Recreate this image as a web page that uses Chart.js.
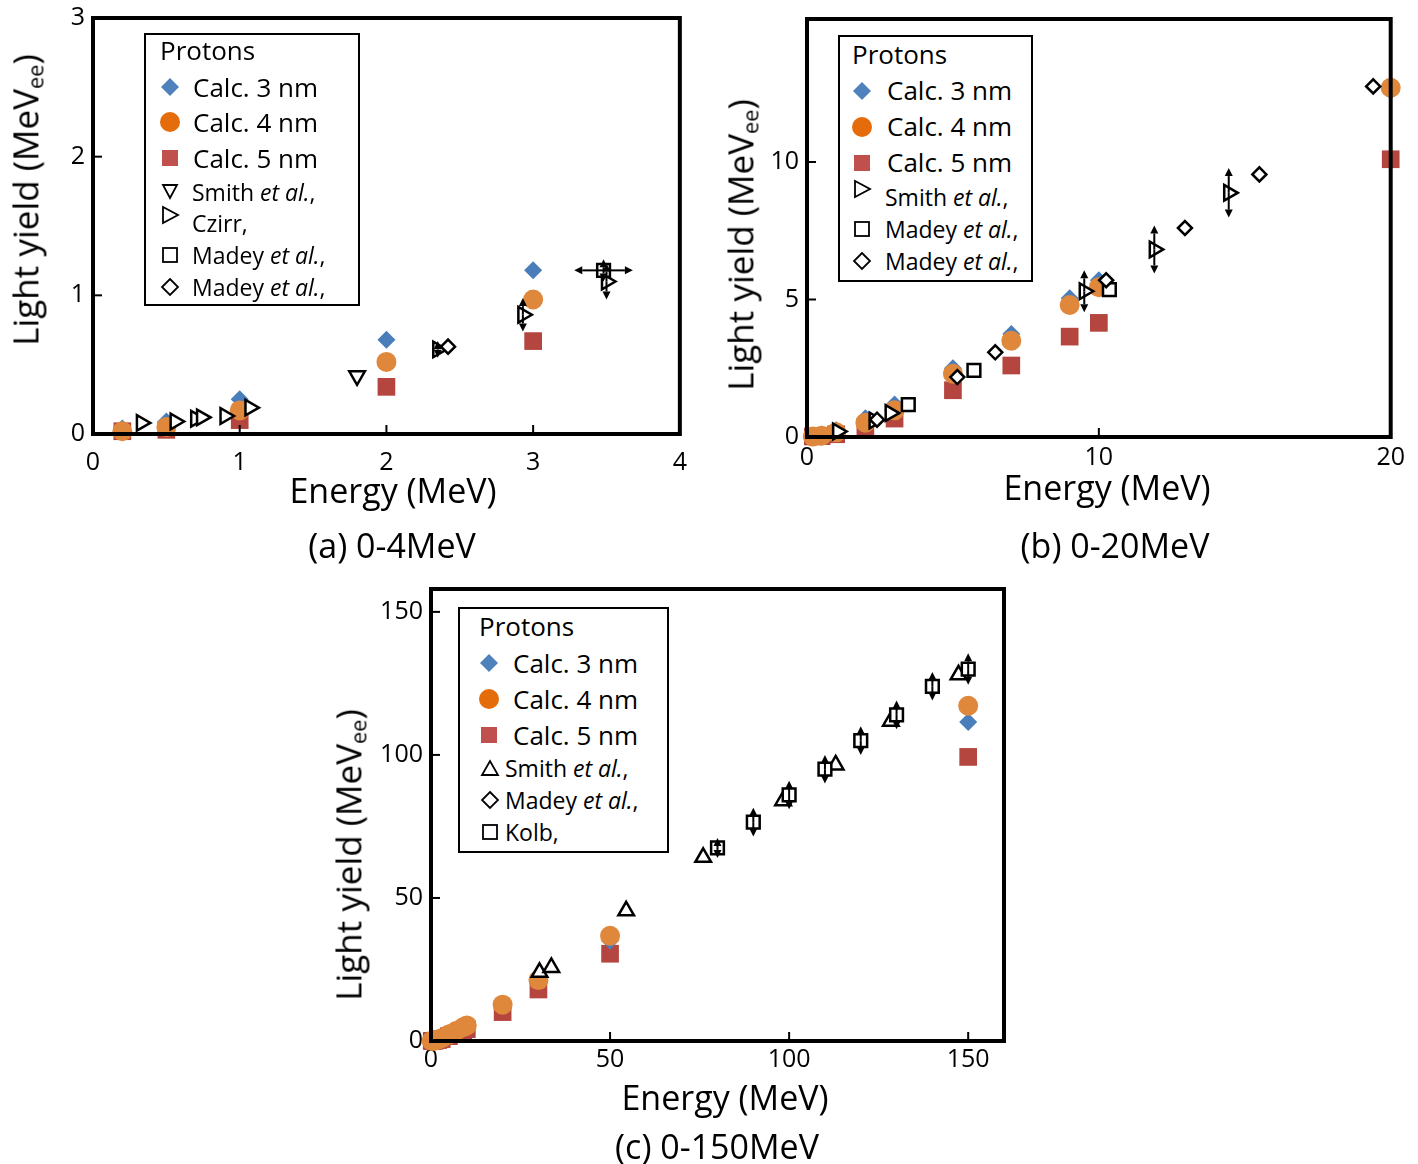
<!DOCTYPE html>
<html>
<head>
<meta charset="utf-8">
<script src="https://cdn.jsdelivr.net/npm/chart.js@4"></script>
<style>
  body { margin:0; width:1418px; height:1164px; background:#fff; position:relative; overflow:hidden;
         font-family:"Open Sans", sans-serif; color:#000; }
  .panel { position:absolute; }
  .txt { position:absolute; white-space:nowrap; transform:translate(-50%,-50%); line-height:1; }
  .ytitle { transform:translate(-50%,-50%) rotate(-90deg); }
  .ytitle sub { font-size:0.62em; vertical-align:-0.25em; }
  .legend { position:absolute; border:2px solid #000; background:#fff; box-sizing:border-box; }
  .ltxt { position:absolute; white-space:nowrap; transform:translateY(-50%); line-height:1; }
  .mk { position:absolute; }
</style>
</head>
<body>
<div class="panel" id="pa"><canvas id="ca"></canvas></div>
<div class="panel" id="pb"><canvas id="cb"></canvas></div>
<div class="panel" id="pc"><canvas id="cc"></canvas></div>

<script>
// ---- data ----
const calcEnergy = [0.2, 0.5, 1, 2, 3, 5, 7, 9, 10, 20, 30, 50, 150];
const calc3nm    = [0.04, 0.09, 0.25, 0.68, 1.18, 2.5, 3.75, 5.05, 5.7, 12.6, 21, 35, 111.5];
const calc4nm    = [0.02, 0.05, 0.17, 0.52, 0.97, 2.3, 3.5, 4.8, 5.45, 12.7, 21.3, 36.8, 117.2];
const calc5nm    = [0.02, 0.03, 0.10, 0.34, 0.67, 1.7, 2.6, 3.65, 4.15, 10.1, 18, 30.5, 99.3];

// panel (a)
const smithA_E = [1.8];
const smithA_LY = [0.42];
const czirrA_E = [0.33, 0.56, 0.7, 0.74, 0.9, 1.07, 2.35, 2.93, 3.5];
const czirrA_LY = [0.08, 0.09, 0.11, 0.12, 0.13, 0.19, 0.61, 0.86, 1.1];
const czirrA_err = [0, 0, 0, 0, 0, 0, 0.06, 0.12, 0.13];
const madeySqA_E = [3.48];
const madeySqA_LY = [1.18];
const madeySqA_yErr = [0.08];
const madeySqA_xErr = [0.2];
const madeyDiaA_E = [2.42];
const madeyDiaA_LY = [0.63];

// panel (b)
const smithB_E = [1.05, 2.3, 2.85, 9.5, 11.9, 14.45];
const smithB_LY = [0.2, 0.6, 0.87, 5.3, 6.82, 8.88];
const smithB_err = [0, 0, 0, 0.76, 0.87, 0.9];
const madeySqB_E = [3.47, 5.72, 10.36];
const madeySqB_LY = [1.18, 2.42, 5.36];
const madeyDiaB_E = [2.4, 5.15, 6.45, 10.25, 12.95, 15.5, 19.4];
const madeyDiaB_LY = [0.63, 2.18, 3.08, 5.7, 7.6, 9.55, 12.75];

// panel (c)
const smithC_E = [30.3, 33.6, 54.5, 76, 98.3, 113, 128.4, 147.3];
const smithC_LY = [24, 25.7, 45.5, 64.2, 84, 96.5, 111.8, 128];
const kolbC_E = [80, 90, 100, 110, 120, 130, 140, 150];
const kolbC_LY = [67.5, 76.5, 86, 95, 105, 114, 124, 130];
const kolbC_err = [3.5, 5, 5, 5, 5, 5, 5, 5.5];
const madeyC_E = [];
const madeyC_LY = [];

// ticks
const xTicksA = [0, 1, 2, 3, 4];
const yTicksA = [0, 1, 2, 3];
const xTicksB = [0, 10, 20];
const yTicksB = [0, 5, 10];
const xTicksC = [0, 50, 100, 150];
const yTicksC = [0, 50, 100, 150];

const BLUE = '#4A7EBB', ORANGE = '#DF883C', RED = '#B4463F';
const FONT = '"Open Sans", sans-serif';

function pts(E, LY, yErr, xErr, xmax) {
  const out = [];
  E.forEach((e, i) => {
    if (e <= xmax) out.push({ x: e, y: LY[i], yErr: yErr ? yErr[i] : 0, xErr: xErr ? xErr[i] : 0 });
  });
  return out;
}

function calcSets(xmax) {
  return [
    { label: 'Calc. 4 nm', data: pts(calcEnergy, calc4nm, null, null, xmax), pointStyle: 'circle', pointRadius: 10, backgroundColor: ORANGE, borderWidth: 0 },
    { label: 'Calc. 3 nm', data: pts(calcEnergy, calc3nm, null, null, xmax), pointStyle: 'rectRot', pointRadius: 9, backgroundColor: BLUE, borderWidth: 0 },
    { label: 'Calc. 5 nm', data: pts(calcEnergy, calc5nm, null, null, xmax), pointStyle: 'rect', pointRadius: 12.5, backgroundColor: RED, borderWidth: 0 }
  ];
}

function openSet(label, data, style, r, rot) {
  return { label: label, data: data, pointStyle: style, pointRadius: r, rotation: rot || 0,
           backgroundColor: '#fff', borderColor: '#000', borderWidth: 2.5 };
}

function arrow(ctx, x0, y0, x1, y1) {
  const a = Math.atan2(y1 - y0, x1 - x0), h = 8, w = 4;
  const bx = x1 - Math.cos(a) * h, by = y1 - Math.sin(a) * h;
  ctx.beginPath(); ctx.moveTo(x0, y0); ctx.lineTo(bx, by); ctx.stroke();
  ctx.beginPath();
  ctx.moveTo(x1, y1);
  ctx.lineTo(bx - Math.sin(a) * w, by + Math.cos(a) * w);
  ctx.lineTo(bx + Math.sin(a) * w, by - Math.cos(a) * w);
  ctx.closePath(); ctx.fill();
}

const frameAndBars = {
  id: 'frameAndBars',
  afterDatasetsDraw(chart) {
    const { ctx, chartArea: ca, scales } = chart;
    const x = scales.x, y = scales.y;
    ctx.save();
    ctx.strokeStyle = '#000'; ctx.fillStyle = '#000'; ctx.lineWidth = 2;
    chart.data.datasets.forEach(ds => {
      ds.data.forEach(p => {
        const px = x.getPixelForValue(p.x), py = y.getPixelForValue(p.y);
        if (p.yErr) {
          arrow(ctx, px, py, px, y.getPixelForValue(p.y + p.yErr));
          arrow(ctx, px, py, px, y.getPixelForValue(p.y - p.yErr));
        }
        if (p.xErr) {
          arrow(ctx, px, py, x.getPixelForValue(p.x + p.xErr), py);
          arrow(ctx, px, py, x.getPixelForValue(p.x - p.xErr), py);
        }
      });
    });
    // inward ticks
    ctx.lineWidth = 2;
    x.ticks.forEach(t => {
      if (t.value <= x.min || t.value >= x.max) return;
      const px = x.getPixelForValue(t.value);
      ctx.beginPath(); ctx.moveTo(px, ca.bottom); ctx.lineTo(px, ca.bottom - 9); ctx.stroke();
    });
    y.ticks.forEach(t => {
      if (t.value <= y.min || t.value >= y.max) return;
      const py = y.getPixelForValue(t.value);
      ctx.beginPath(); ctx.moveTo(ca.left, py); ctx.lineTo(ca.left + 9, py); ctx.stroke();
    });
    // frame
    ctx.lineWidth = 4;
    ctx.strokeRect(ca.left, ca.top, ca.right - ca.left, ca.bottom - ca.top);
    ctx.restore();
  }
};

function makePanel(boxId, canvasId, area, xmax, ymax, xTicks, yTicks, xPad, datasets) {
  const box = document.getElementById(boxId);
  const w = (area.r - area.l) + 80, h = (area.b - area.t) + 65;
  box.style.left = (area.l - 60) + 'px';
  box.style.top = (area.t - 20) + 'px';
  const cv = document.getElementById(canvasId);
  cv.width = w; cv.height = h;
  const tickFont = { family: FONT, size: 25 };
  return new Chart(cv, {
    type: 'scatter',
    data: { datasets: datasets.map(d => Object.assign({ clip: false }, d)) },
    options: {
      responsive: false, animation: false, devicePixelRatio: 1,
      layout: { padding: { left: 10, top: 20, right: 20, bottom: 5 } },
      plugins: { legend: { display: false }, tooltip: { enabled: false } },
      scales: {
        x: {
          type: 'linear', min: 0, max: xmax,
          afterBuildTicks: s => { s.ticks = xTicks.map(v => ({ value: v })); },
          afterFit: s => { s.height = 40; },
          ticks: { color: '#000', font: tickFont, padding: xPad, maxRotation: 0 },
          grid: { display: false, drawTicks: false }, border: { display: false }
        },
        y: {
          type: 'linear', min: 0, max: ymax,
          afterBuildTicks: s => { s.ticks = yTicks.map(v => ({ value: v })); },
          afterFit: s => { s.width = 50; },
          ticks: { color: '#000', font: tickFont, padding: 8 },
          grid: { display: false, drawTicks: false }, border: { display: false }
        }
      }
    },
    plugins: [frameAndBars]
  });
}

// panel (a) 0-4 MeV
makePanel('pa', 'ca', { l: 93, t: 15, r: 681, b: 434 }, 4, 3, xTicksA, yTicksA, 14, [
  openSet('Madey et al. (sq)', pts(madeySqA_E, madeySqA_LY, madeySqA_yErr, madeySqA_xErr, 4), 'rect', 9),
  openSet('Madey et al. (dia)', pts(madeyDiaA_E, madeyDiaA_LY, null, null, 4), 'rectRot', 7),
  openSet('Czirr', pts(czirrA_E, czirrA_LY, czirrA_err, null, 4), 'triangle', 9, 90),
  openSet('Smith et al.', pts(smithA_E, smithA_LY, null, null, 4), 'triangle', 9, 180)
].concat(calcSets(4)));

// panel (b) 0-20 MeV
makePanel('pb', 'cb', { l: 807, t: 16, r: 1391, b: 437 }, 20, 15.2, xTicksB, yTicksB, 6, [
  openSet('Madey et al. (dia)', pts(madeyDiaB_E, madeyDiaB_LY, null, null, 20), 'rectRot', 7),
  openSet('Madey et al. (sq)', pts(madeySqB_E, madeySqB_LY, null, null, 20), 'rect', 9),
  openSet('Smith et al.', pts(smithB_E, smithB_LY, smithB_err, null, 20), 'triangle', 9, 90)
].concat(calcSets(20)));

// panel (c) 0-150 MeV
makePanel('pc', 'cc', { l: 431, t: 586, r: 1004, b: 1041 }, 160, 158, xTicksC, yTicksC, 4, [
  openSet('Kolb', pts(kolbC_E, kolbC_LY, kolbC_err, null, 160), 'rect', 9),
  openSet('Madey et al.', pts(madeyC_E, madeyC_LY, null, null, 160), 'rectRot', 7),
  openSet('Smith et al.', pts(smithC_E, smithC_LY, null, null, 160), 'triangle', 9)
].concat(calcSets(160)));

// ---- titles, captions, legends (HTML text) ----
function addText(html, cx, cy, size, cls) {
  const d = document.createElement('div');
  d.className = 'txt' + (cls ? ' ' + cls : '');
  d.style.left = cx + 'px'; d.style.top = cy + 'px'; d.style.fontSize = size + 'px';
  d.innerHTML = html;
  document.body.appendChild(d);
}
const yTitle = 'Light yield (MeV<sub>ee</sub>)';
addText(yTitle, 27, 200, 35, 'ytitle');
addText(yTitle, 742, 245, 35, 'ytitle');
addText(yTitle, 350, 855, 35, 'ytitle');
addText('Energy (MeV)', 393, 490, 34);
addText('Energy (MeV)', 1107, 487, 34);
addText('Energy (MeV)', 725, 1097, 34);
addText('(a) 0-4MeV', 392, 545, 34);
addText('(b) 0-20MeV', 1115, 545, 34);
addText('(c) 0-150MeV', 717, 1146, 34);

const LEG_BLUE = '#4F81BD', LEG_ORANGE = '#E46C0A', LEG_RED = '#C0504D';
function markerSvg(shape, color) {
  const s = 22, c = 11;
  let body = '';
  if (shape === 'diamond') body = `<polygon points="${c},${c-9} ${c+9},${c} ${c},${c+9} ${c-9},${c}" fill="${color}"/>`;
  if (shape === 'circle') body = `<circle cx="${c}" cy="${c}" r="10" fill="${color}"/>`;
  if (shape === 'square') body = `<rect x="${c-8}" y="${c-8}" width="16" height="16" fill="${color}"/>`;
  const st = 'fill="#fff" stroke="#000" stroke-width="1.8"';
  if (shape === 'osquare') body = `<rect x="${c-7}" y="${c-7}" width="14" height="14" ${st}/>`;
  if (shape === 'odiamond') body = `<polygon points="${c},${c-8} ${c+8},${c} ${c},${c+8} ${c-8},${c}" ${st}/>`;
  if (shape === 'otriDown') body = `<polygon points="${c-7},${c-6} ${c+7},${c-6} ${c},${c+7}" ${st}/>`;
  if (shape === 'otriUp') body = `<polygon points="${c-8},${c+7} ${c+8},${c+7} ${c},${c-7}" ${st}/>`;
  if (shape === 'otriRight') body = `<polygon points="${c-7},${c-8} ${c-7},${c+8} ${c+8},${c}" ${st}/>`;
  return `<svg width="${s}" height="${s}" viewBox="0 0 ${s} ${s}">${body}</svg>`;
}
function addLegend(box, items) {
  const lg = document.createElement('div');
  lg.className = 'legend';
  lg.style.left = box.l + 'px'; lg.style.top = box.t + 'px';
  lg.style.width = (box.r - box.l) + 'px'; lg.style.height = (box.b - box.t) + 'px';
  document.body.appendChild(lg);
  items.forEach(it => {
    if (it.shape) {
      const m = document.createElement('div');
      m.className = 'mk';
      m.style.left = (it.mx - box.l - 11 - 2) + 'px';
      m.style.top = (it.my - box.t - 11 - 2) + 'px';
      m.innerHTML = markerSvg(it.shape, it.color);
      lg.appendChild(m);
    }
    const t = document.createElement('div');
    t.className = 'ltxt';
    t.style.left = (it.tx - box.l - 2) + 'px';
    t.style.top = (it.ty - box.t - 2) + 'px';
    t.style.fontSize = it.size + 'px';
    t.innerHTML = it.text;
    lg.appendChild(t);
  });
}
const ETAL = '<i>et al.</i>,';
addLegend({ l: 144, t: 33, r: 360, b: 306 }, [
  { text: 'Protons', tx: 160, ty: 50, size: 26 },
  { shape: 'diamond', color: LEG_BLUE, mx: 170, my: 87, text: 'Calc. 3 nm', tx: 193, ty: 87, size: 26 },
  { shape: 'circle', color: LEG_ORANGE, mx: 170, my: 122, text: 'Calc. 4 nm', tx: 193, ty: 122, size: 26 },
  { shape: 'square', color: LEG_RED, mx: 170, my: 158, text: 'Calc. 5 nm', tx: 193, ty: 158, size: 26 },
  { shape: 'otriDown', mx: 170, my: 191, text: 'Smith ' + ETAL, tx: 192, ty: 192, size: 23 },
  { shape: 'otriRight', mx: 170, my: 215, text: 'Czirr,', tx: 192, ty: 223, size: 23 },
  { shape: 'osquare', mx: 170, my: 255, text: 'Madey ' + ETAL, tx: 192, ty: 255, size: 23 },
  { shape: 'odiamond', mx: 170, my: 287, text: 'Madey ' + ETAL, tx: 192, ty: 287, size: 23 }
]);
addLegend({ l: 838, t: 35, r: 1033, b: 282 }, [
  { text: 'Protons', tx: 852, ty: 54, size: 26 },
  { shape: 'diamond', color: LEG_BLUE, mx: 862, my: 91, text: 'Calc. 3 nm', tx: 887, ty: 90, size: 26 },
  { shape: 'circle', color: LEG_ORANGE, mx: 862, my: 127, text: 'Calc. 4 nm', tx: 887, ty: 126, size: 26 },
  { shape: 'square', color: LEG_RED, mx: 862, my: 163, text: 'Calc. 5 nm', tx: 887, ty: 162, size: 26 },
  { shape: 'otriRight', mx: 862, my: 189, text: 'Smith ' + ETAL, tx: 885, ty: 197, size: 23 },
  { shape: 'osquare', mx: 862, my: 229, text: 'Madey ' + ETAL, tx: 885, ty: 229, size: 23 },
  { shape: 'odiamond', mx: 862, my: 261, text: 'Madey ' + ETAL, tx: 885, ty: 261, size: 23 }
]);
addLegend({ l: 458, t: 607, r: 669, b: 853 }, [
  { text: 'Protons', tx: 479, ty: 626, size: 26 },
  { shape: 'diamond', color: LEG_BLUE, mx: 489, my: 663, text: 'Calc. 3 nm', tx: 513, ty: 663, size: 26 },
  { shape: 'circle', color: LEG_ORANGE, mx: 489, my: 699, text: 'Calc. 4 nm', tx: 513, ty: 699, size: 26 },
  { shape: 'square', color: LEG_RED, mx: 489, my: 735, text: 'Calc. 5 nm', tx: 513, ty: 735, size: 26 },
  { shape: 'otriUp', mx: 490, my: 768, text: 'Smith ' + ETAL, tx: 505, ty: 768, size: 23 },
  { shape: 'odiamond', mx: 490, my: 800, text: 'Madey ' + ETAL, tx: 505, ty: 800, size: 23 },
  { shape: 'osquare', mx: 490, my: 832, text: 'Kolb,', tx: 505, ty: 832, size: 23 }
]);
</script>
</body>
</html>
